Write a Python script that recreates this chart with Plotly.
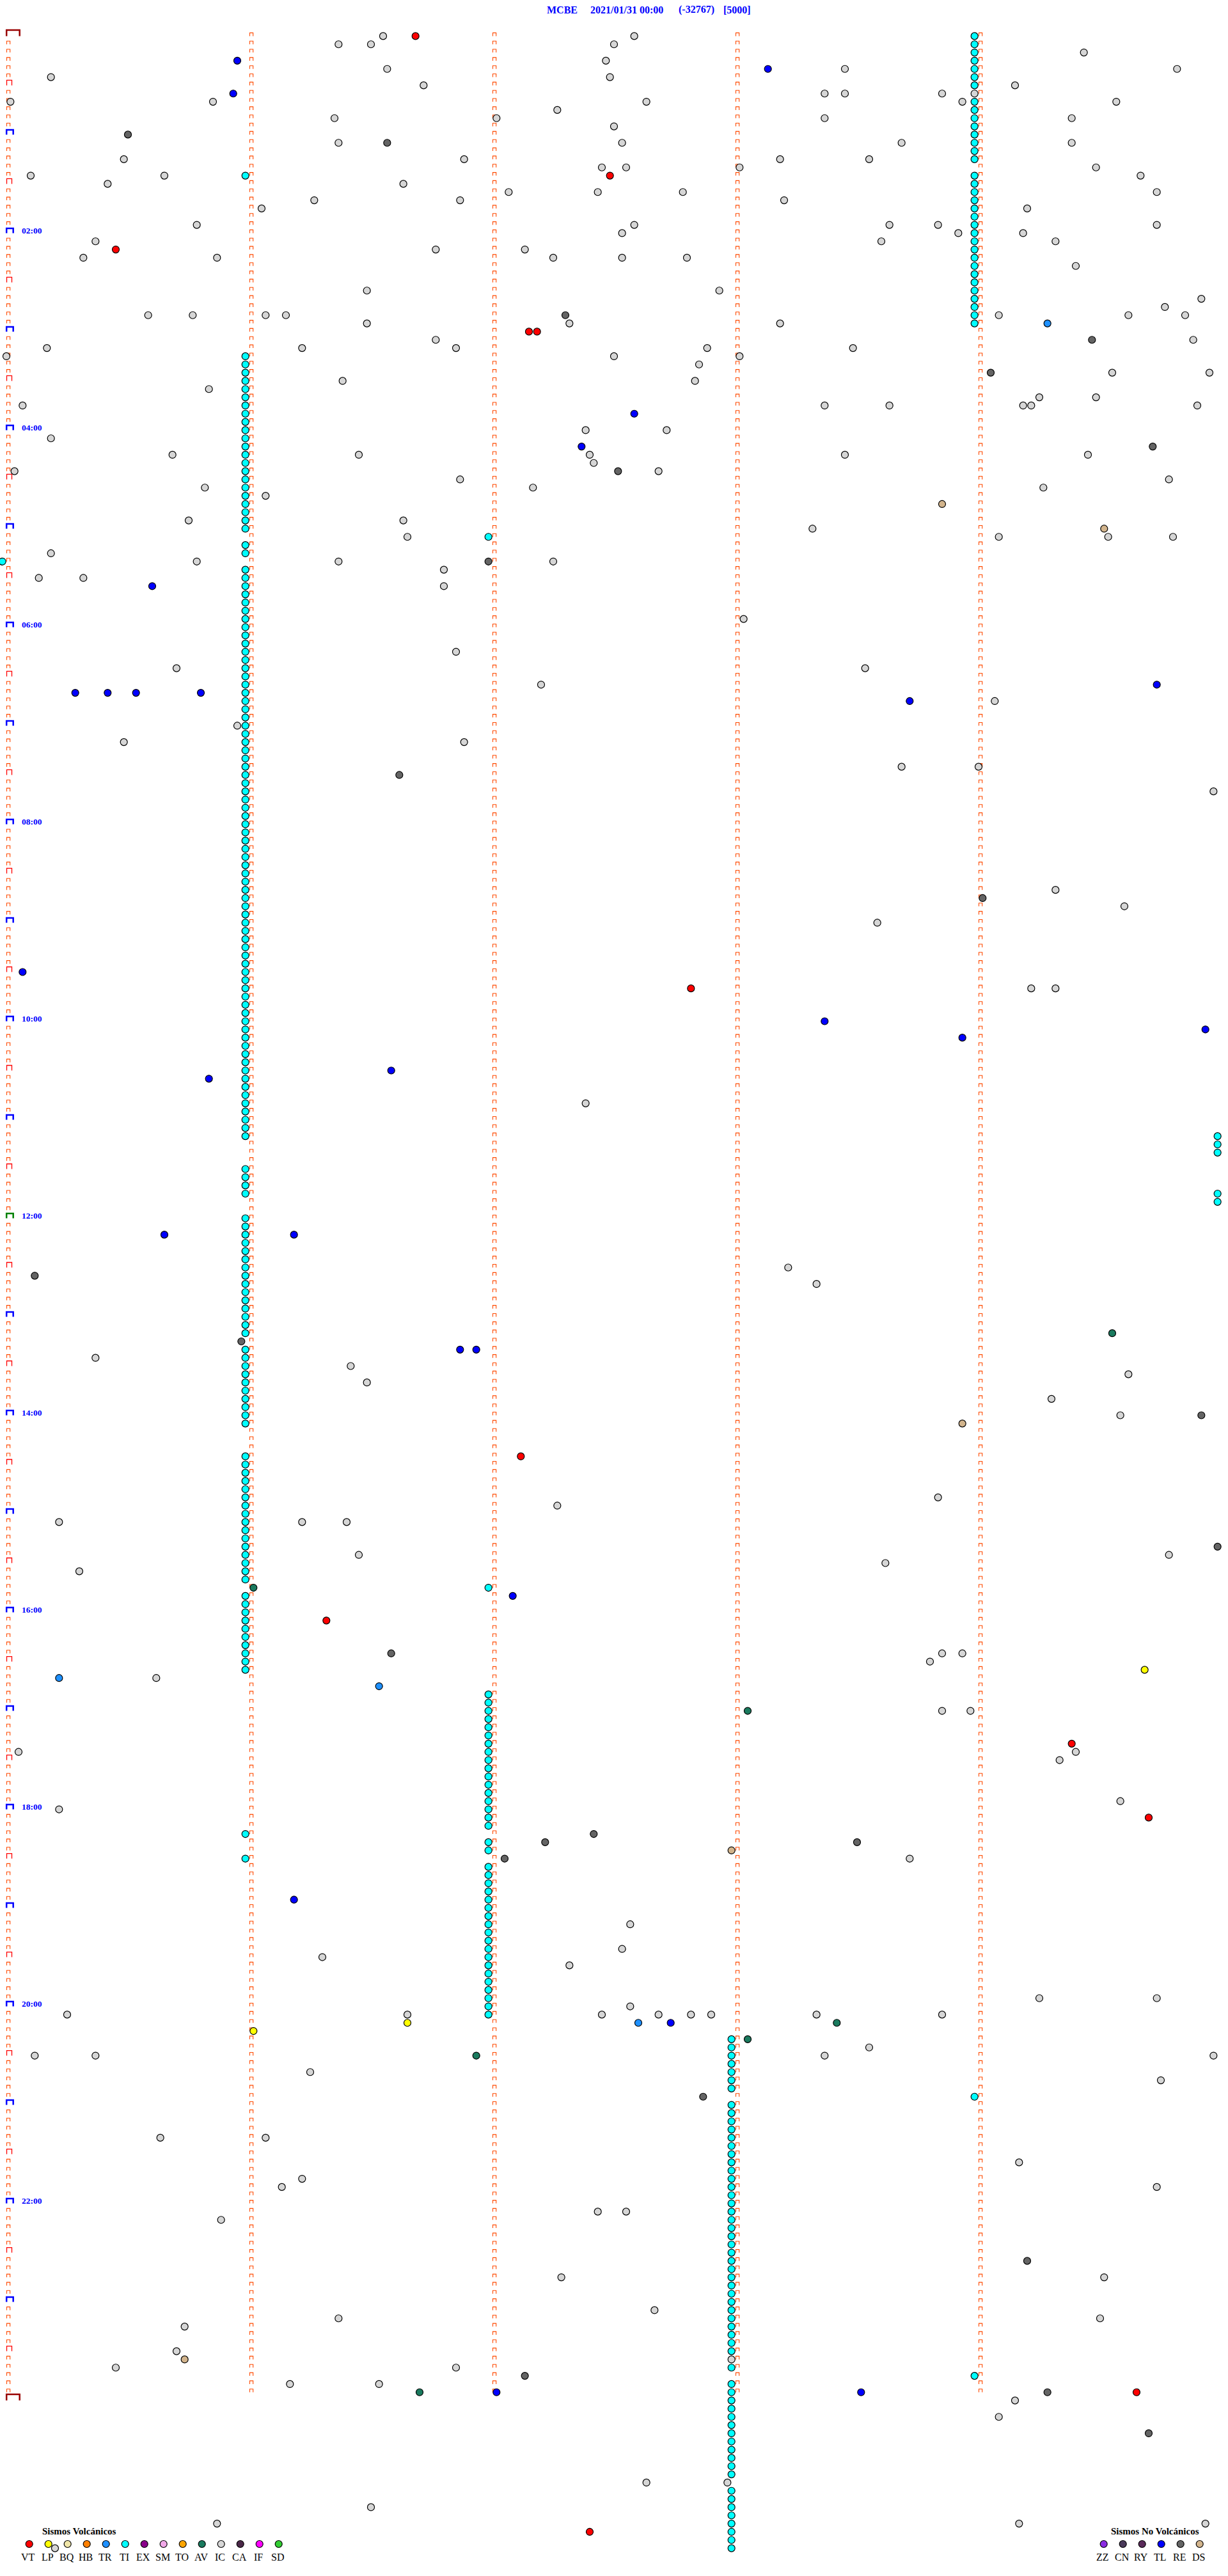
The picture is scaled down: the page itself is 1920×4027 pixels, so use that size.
import plotly.graph_objects as go

# ------------------------------------------------------------------ texts
station = "MCBE"
start_label = "2021/01/31 00:00"
offset_label = "(-32767)"
scale_label = "[5000]"

# ------------------------------------------------------------------ time grid
lines_per_day = 288                      # 5-minute lines
minute_marks_s = [0, 60, 120, 180, 240]  # minute ticks inside each line (s)
hour_rows = [24, 48, 72, 96, 120, 144, 168, 192, 216, 240, 264]
hour_texts = ["02:00", "04:00", "06:00", "08:00", "10:00", "12:00",
              "14:00", "16:00", "18:00", "20:00", "22:00"]

# ------------------------------------------------------------------ legend
volc_types = ["VT", "LP", "BQ", "HB", "TR", "TI", "EX", "SM", "TO", "AV", "IC", "CA", "IF", "SD"]
volc_colors = ["#FF0000", "#FFFF00", "#F0E6A8", "#FF8000", "#1E90FF", "#00FFFF", "#8B008B",
               "#F0A8E8", "#FFA500", "#1A7A5E", "#D6D6D6", "#4A2848", "#FF00FF", "#32CD32"]
nonvolc_types = ["ZZ", "CN", "RY", "TL", "RE", "DS"]
nonvolc_colors = ["#8A2BE2", "#4A3A5A", "#5A2A5A", "#0000FF", "#646464", "#D2B48C"]

# ------------------------------------------------------------------ events: (line, second in line)
# tremor (TI) events, grouped by the second of the line at which they sit
ti_rows_at_m1s = [64]
ti_rows_at_59s = [17,
                  39, 40, 41, 42, 43, 44, 45, 46, 47, 48, 49, 50, 51, 52, 53, 54, 55, 56, 57, 58, 59, 60,
                  62, 63,
                  65, 66, 67, 68, 69, 70, 71, 72, 73, 74, 75, 76, 77, 78, 79, 80, 81, 82, 83, 84, 85,
                  86, 87, 88, 89, 90, 91, 92, 93, 94, 95, 96, 97, 98, 99, 100, 101, 102, 103, 104,
                  105, 106, 107, 108, 109, 110, 111, 112, 113, 114, 115, 116, 117, 118, 119, 120,
                  121, 122, 123, 124, 125, 126, 127, 128, 129, 130, 131, 132, 133, 134,
                  138, 139, 140, 141,
                  144, 145, 146, 147, 148, 149, 150, 151, 152, 153, 154, 155, 156, 157, 158,
                  160, 161, 162, 163, 164, 165, 166, 167, 168, 169,
                  173, 174, 175, 176, 177, 178, 179, 180, 181, 182, 183, 184, 185, 186, 187, 188,
                  190, 191, 192, 193, 194, 195, 196, 197, 198, 199,
                  219, 222]
ti_rows_at_119s = [61, 189,
                   202, 203, 204, 205, 206, 207, 208, 209, 210, 211, 212, 213, 214, 215, 216, 217, 218,
                   220, 221,
                   223, 224, 225, 226, 227, 228, 229, 230, 231, 232, 233, 234, 235, 236, 237, 238,
                   239, 240, 241]
ti_rows_at_179s = [244, 245, 246, 247, 248, 249, 250,
                   252, 253, 254, 255, 256, 257, 258, 259, 260, 261, 262, 263, 264, 265, 266, 267,
                   268, 269, 270, 271, 272, 273, 274, 275, 276, 277, 278, 279, 280, 281, 282, 284,
                   286, 287, 288, 289, 290, 291, 292, 293, 294, 295, 296, 297,
                   299, 300, 301, 302, 303, 304, 305, 306]
ti_rows_at_239s = [0, 1, 2, 3, 4, 5, 6, 8, 9, 10, 11, 12, 13, 14, 15,
                   17, 18, 19, 20, 21, 22, 23, 24, 25, 26, 27, 28, 29, 30, 31, 32, 33, 34, 35,
                   251, 285]
ti_rows_at_299s = [134, 135, 136, 141, 142]

ic_events = [
    (0, 93), (0, 155), (1, 82), (1, 90), (1, 150), (2, 266), (3, 148),
    (4, 94), (4, 207), (4, 289), (5, 11), (5, 149), (6, 103), (6, 249),
    (7, 202), (7, 207), (7, 231), (7, 239), (8, 1), (8, 51), (8, 158), (8, 236), (8, 274),
    (9, 136), (10, 81), (10, 121), (10, 202), (10, 263), (11, 150),
    (13, 82), (13, 152), (13, 221), (13, 263), (15, 29), (15, 113), (15, 191), (15, 213),
    (16, 147), (16, 153), (16, 181), (16, 269), (17, 6), (17, 39), (17, 280),
    (18, 25), (18, 98), (19, 124), (19, 146), (19, 167), (19, 284),
    (20, 76), (20, 112), (20, 192), (21, 63), (21, 252),
    (23, 47), (23, 155), (23, 218), (23, 230), (23, 284), (24, 152), (24, 235), (24, 251),
    (25, 22), (25, 216), (25, 259), (26, 106), (26, 128),
    (27, 19), (27, 52), (27, 135), (27, 152), (27, 168), (28, 264), (31, 89), (31, 176),
    (32, 295), (33, 286), (34, 35), (34, 46), (34, 64), (34, 69), (34, 245), (34, 277), (34, 291),
    (35, 89), (35, 139), (35, 191), (37, 106), (37, 293),
    (38, 10), (38, 73), (38, 111), (38, 173), (38, 209), (39, 0), (39, 150), (39, 181),
    (40, 171), (41, 273), (41, 297), (42, 83), (42, 170), (43, 50), (44, 255), (44, 269),
    (45, 4), (45, 202), (45, 218), (45, 251), (45, 253), (45, 294), (48, 143), (48, 163),
    (49, 11), (51, 41), (51, 87), (51, 144), (51, 207), (51, 267), (52, 145), (53, 2), (53, 161),
    (54, 112), (54, 287), (55, 49), (55, 130), (55, 256), (56, 64), (59, 45), (59, 98),
    (60, 199), (61, 99), (61, 245), (61, 272), (61, 288), (63, 11), (64, 47), (64, 82), (64, 135),
    (65, 108), (66, 8), (66, 19), (67, 108), (71, 182), (75, 111), (77, 42), (77, 212),
    (79, 132), (81, 244), (84, 57), (86, 29), (86, 113), (89, 221), (89, 240), (92, 298),
    (104, 259), (106, 276), (108, 215), (116, 253), (116, 259), (130, 143), (150, 193),
    (152, 200), (161, 22), (162, 85), (163, 277), (164, 89), (166, 258), (168, 275),
    (178, 230), (179, 136), (181, 13), (181, 73), (181, 84), (185, 87), (185, 287),
    (186, 217), (187, 18), (197, 231), (197, 236), (198, 228), (200, 37), (204, 231),
    (204, 238), (209, 3), (209, 264), (210, 260), (215, 275), (216, 13), (222, 223),
    (230, 154), (233, 152), (234, 78), (235, 139), (239, 255), (239, 284), (240, 154),
    (241, 15), (241, 99), (241, 147), (241, 161), (241, 169), (241, 174), (241, 200), (241, 231),
    (245, 213), (246, 7), (246, 22), (246, 202), (246, 298), (248, 75), (249, 285),
    (256, 38), (256, 64), (259, 250), (261, 73), (262, 68), (262, 284), (265, 146), (265, 153),
    (266, 53), (273, 137), (273, 271), (277, 160), (278, 82), (278, 270), (279, 44),
    (282, 42), (283, 179), (284, 27), (284, 111), (286, 70), (286, 92), (288, 249),
    (290, 245), (298, 158), (298, 178), (301, 90), (303, 52), (303, 250), (303, 296), (306, 12),
]
re_events = [(12, 30), (13, 94), (34, 138), (37, 268), (41, 243), (50, 283), (53, 151), (64, 119),
             (90, 97), (105, 241), (151, 7), (159, 58), (168, 295), (184, 299), (197, 95),
             (219, 145), (220, 133), (220, 210), (222, 123), (251, 172), (271, 252), (285, 128),
             (287, 257), (292, 282)]
ds_events = [(57, 231), (60, 271), (169, 236), (221, 179), (283, 44)]
tl_events = [(3, 57), (4, 188), (7, 56), (46, 155), (50, 142), (67, 36), (79, 284),
             (80, 17), (80, 25), (80, 32), (80, 48), (81, 223), (114, 4), (120, 202),
             (121, 296), (122, 236), (126, 95), (127, 50), (146, 39), (146, 71),
             (160, 112), (160, 116), (190, 125), (227, 71), (242, 164), (287, 121), (287, 211)]
tr_events = [(35, 257), (200, 13), (201, 92), (242, 156)]
av_events = [(158, 273), (189, 61), (204, 183), (242, 205), (244, 183), (246, 116), (287, 102)]
lp_events = [(199, 281), (242, 99), (243, 61)]
vt_events = [(0, 101), (17, 149), (26, 27), (36, 129), (36, 131), (116, 169), (173, 127),
             (193, 79), (208, 263), (217, 282), (287, 279), (304, 144)]

# ------------------------------------------------------------------ geometry of the drum
W, H = 1920, 4027
PX_PER_SEC = 380.0 / 60.0
PX_PER_ROW = 12.834
X0_PX, Y0_PX = 10.0, 56.4
MARK = 11
OUTLINE = 1.2

color_of = dict(zip(volc_types + nonvolc_types, volc_colors + nonvolc_colors))

fig = go.Figure()


def bracket_path(items, w_px, h_px, dx_px=0.0):
    xs, ys = [], []
    for sec, row in items:
        xa = sec + dx_px / PX_PER_SEC
        xb = xa + w_px / PX_PER_SEC
        yt = row - h_px / PX_PER_ROW
        xs += [xa, xa, xb, xb, None]
        ys += [row, yt, yt, row, None]
    return xs, ys


def add_path(items, w_px, h_px, color, width, dx_px=0.0):
    xs, ys = bracket_path(items, w_px, h_px, dx_px)
    fig.add_trace(go.Scatter(x=xs, y=ys, mode="lines", line=dict(color=color, width=width),
                             hoverinfo="skip", showlegend=False))


small = []
for r in range(lines_per_day):
    for m in minute_marks_s:
        if m == 0 and r % 6 == 0:
            continue
        small.append((m, r))
add_path(small, 5.2, 5, "#FF4A00", 1.1, 0.5)
half_hour = [(0, r) for r in range(6, lines_per_day, 12)]
add_path(half_hour, 8, 8, "#FF0000", 1.3, 0.5)
hours_blue = [(0, r) for r in range(12, lines_per_day, 12) if r != 144]
add_path(hours_blue, 10.5, 7.5, "#0000FF", 2.5, 0.2)
add_path([(0, 144)], 10.5, 7.5, "#008000", 2.5, 0.2)
add_path([(0, 0), (0, lines_per_day)], 20.5, 9.5, "#990000", 2.5, 0.2)


def add_events(rows, secs, color):
    fig.add_trace(go.Scatter(x=secs, y=rows, mode="markers",
                             marker=dict(size=MARK, color=color, line=dict(color="black", width=OUTLINE)),
                             hoverinfo="skip", showlegend=False))


for rows, sec in [(ti_rows_at_m1s, -1), (ti_rows_at_59s, 59), (ti_rows_at_119s, 119),
                  (ti_rows_at_179s, 179), (ti_rows_at_239s, 239), (ti_rows_at_299s, 299)]:
    add_events(rows, [sec] * len(rows), color_of["TI"])

for kind, evs in [("IC", ic_events), ("RE", re_events), ("DS", ds_events), ("TL", tl_events),
                  ("TR", tr_events), ("AV", av_events), ("LP", lp_events), ("VT", vt_events)]:
    add_events([e[0] for e in evs], [e[1] for e in evs], color_of[kind])

# ------------------------------------------------------------------ legend (pixel overlay axes)
vx = [45.7 + 30 * i for i in range(len(volc_types))]
nx = [1725.7 + 30 * i for i in range(len(nonvolc_types))]
fig.add_trace(go.Scatter(x=vx + nx, y=[3977] * (len(vx) + len(nx)), xaxis="x2", yaxis="y2",
                         mode="markers",
                         marker=dict(size=MARK, color=volc_colors + nonvolc_colors,
                                     line=dict(color="black", width=OUTLINE)),
                         hoverinfo="skip", showlegend=False))

ann = []
serif = "Liberation Serif"
for t, x in zip(volc_types + nonvolc_types, vx + nx):
    ann.append(dict(x=x - 1.5, y=3997, xref="x2", yref="y2", text=t, showarrow=False,
                    font=dict(family=serif, size=16, color="black"), xanchor="center", yanchor="middle"))
ann.append(dict(x=124, y=3957, xref="x2", yref="y2", text="<b>Sismos Volcánicos</b>", showarrow=False,
                font=dict(family=serif, size=15, color="black"), xanchor="center", yanchor="middle"))
ann.append(dict(x=1806, y=3957, xref="x2", yref="y2", text="<b>Sismos No Volcánicos</b>", showarrow=False,
                font=dict(family=serif, size=15, color="black"), xanchor="center", yanchor="middle"))
for t, x in zip([station, start_label, offset_label, scale_label], [853, 921, 1059, 1129]):
    ann.append(dict(x=x, y=15, xref="x2", yref="y2", text="<b>" + t + "</b>", showarrow=False,
                    font=dict(family=serif, size=16, color="#0000FF"), xanchor="left", yanchor="middle"))
for t, r in zip(hour_texts, hour_rows):
    ann.append(dict(x=32, y=r - 4 / PX_PER_ROW, xref="x2", yref="y", text="<b>" + t + "</b>",
                    showarrow=False, font=dict(family=serif, size=13.5, color="#0000FF"),
                    xanchor="left", yanchor="middle"))

fig.update_layout(
    width=W, height=H, autosize=False,
    margin=dict(l=0, r=0, t=0, b=0, pad=0),
    paper_bgcolor="white", plot_bgcolor="white",
    xaxis=dict(range=[-X0_PX / PX_PER_SEC, (W - X0_PX) / PX_PER_SEC], visible=False, fixedrange=True),
    yaxis=dict(range=[(H - Y0_PX) / PX_PER_ROW, -Y0_PX / PX_PER_ROW], visible=False, fixedrange=True),
    xaxis2=dict(range=[0, W], overlaying="x", visible=False, fixedrange=True),
    yaxis2=dict(range=[H, 0], overlaying="y", visible=False, fixedrange=True),
    annotations=ann,
    hovermode=False,
)

fig.write_html("out.html", config={"displayModeBar": False},
               post_script="document.body.style.margin='0';")
